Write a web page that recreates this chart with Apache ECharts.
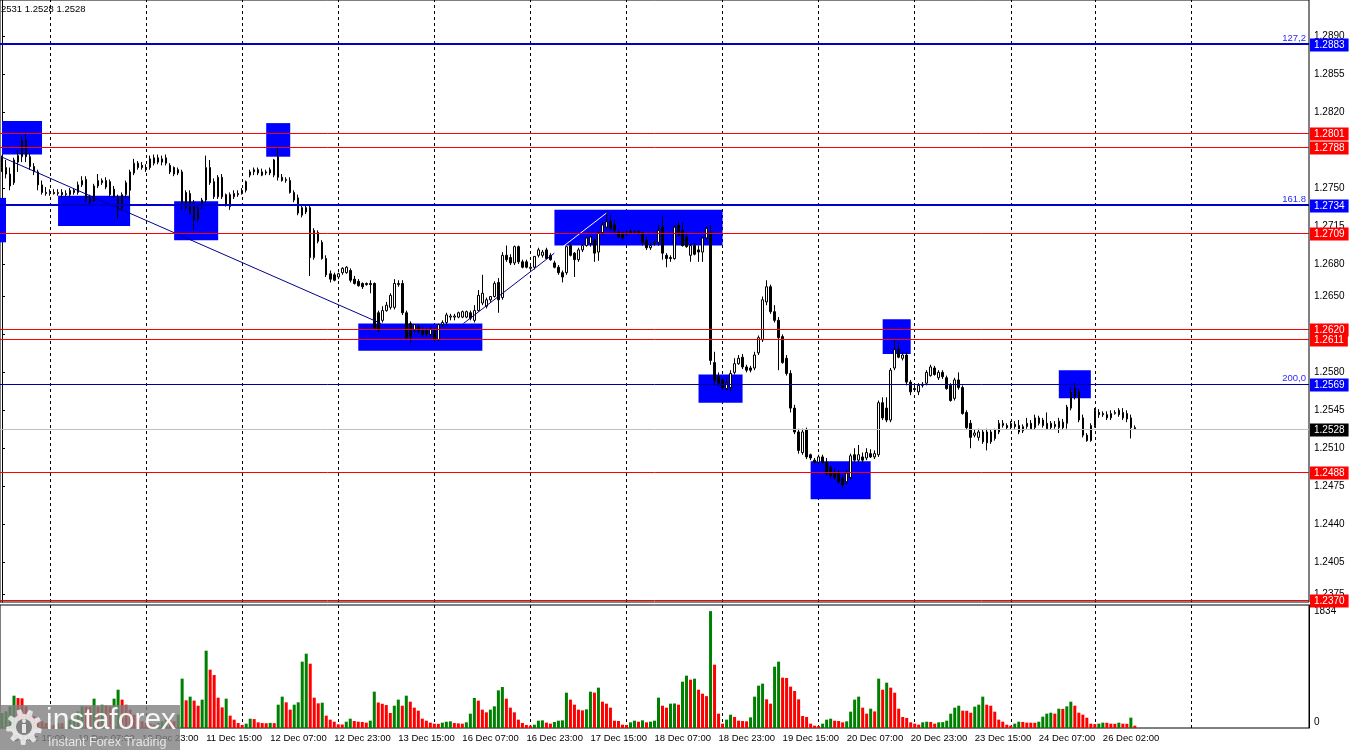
<!DOCTYPE html>
<html><head><meta charset="utf-8">
<script src="https://cdn.jsdelivr.net/npm/echarts@6/dist/echarts.min.js"></script>
<style>html,body{margin:0;padding:0;background:#fff}#c{width:1350px;height:750px}</style>
</head><body><div id="c"></div>
<script>
// ---- time axis (H1 bars) ----
const days = ['9 Dec','10 Dec','11 Dec','12 Dec','13 Dec','16 Dec','17 Dec','18 Dec','19 Dec','20 Dec','23 Dec','24 Dec','26 Dec','27 Dec','30 Dec'];
const dayFirstHour = [12,0,0,0,0,0,0,0,0,0,0,0,0,0,0];
const dayLastHour  = [23,23,23,23,23,23,23,23,23,23,23,20,23,23,5];

// ---- OHLC (GBPUSD H1) ----
const opens = [
1.2774,1.2769,1.2763,1.2755,1.2774,1.2779,1.2794,1.2779,1.2770,1.2765,
1.2753,1.2746,1.2745,1.2746,1.2745,1.2746,1.2744,1.2744,1.2748,1.2746,
1.2753,1.2758,1.2741,1.2738,1.2752,1.2755,1.2757,1.2756,1.2749,1.2742,
1.2731,1.2744,1.2748,1.2764,1.2773,1.2771,1.2769,1.2769,1.2773,1.2778,
1.2774,1.2773,1.2771,1.2769,1.2767,1.2765,1.2746,1.2745,1.2736,1.2721,
1.2733,1.2739,1.2769,1.2756,1.2742,1.2760,1.2744,1.2744,1.2742,1.2745,
1.2745,1.2748,1.2762,1.2765,1.2767,1.2765,1.2764,1.2764,1.2762,1.2779,
1.2760,1.2757,1.2757,1.2746,1.2741,1.2725,1.2728,1.2732,1.2686,1.2709,
1.2700,1.2685,1.2671,1.2670,1.2668,1.2672,1.2672,1.2674,1.2666,1.2664,
1.2662,1.2662,1.2662,1.2662,1.2635,1.2628,1.2637,1.2640,1.2640,1.2661,
1.2662,1.2635,1.2625,1.2619,1.2622,1.2619,1.2619,1.2615,1.2619,1.2610,
1.2624,1.2626,1.2631,1.2631,1.2631,1.2631,1.2631,1.2635,1.2628,1.2637,
1.2644,1.2641,1.2647,1.2650,1.2663,1.2649,1.2688,1.2686,1.2681,1.2696,
1.2682,1.2682,1.2676,1.2677,1.2688,1.2688,1.2693,1.2688,1.2681,1.2677,
1.2672,1.2672,1.2697,1.2690,1.2684,1.2693,1.2697,1.2699,1.2702,1.2691,
1.2709,1.2714,1.2719,1.2716,1.2709,1.2709,1.2708,1.2710,1.2709,1.2709,
1.2709,1.2702,1.2695,1.2699,1.2700,1.2714,1.2688,1.2686,1.2685,1.2716,
1.2711,1.2705,1.2688,1.2697,1.2693,1.2691,1.2704,1.2709,1.2589,1.2576,
1.2573,1.2565,1.2566,1.2580,1.2588,1.2594,1.2585,1.2584,1.2584,1.2598,
1.2610,1.2645,1.2659,1.2636,1.2628,1.2613,1.2593,1.2579,1.2547,1.2525,
1.2506,1.2527,1.2504,1.2499,1.2497,1.2502,1.2497,1.2492,1.2488,1.2487,
1.2482,1.2479,1.2483,1.2504,1.2499,1.2502,1.2501,1.2505,1.2502,1.2504,
1.2552,1.2547,1.2536,1.2584,1.2601,1.2593,1.2596,1.2571,1.2565,1.2562,
1.2568,1.2570,1.2577,1.2584,1.2575,1.2580,1.2575,1.2568,1.2556,1.2573,
1.2566,1.2543,1.2533,1.2522,1.2520,1.2525,1.2525,1.2525,1.2519,1.2525,
1.2531,1.2531,1.2529,1.2532,1.2531,1.2526,1.2530,1.2533,1.2529,1.2538,
1.2536,1.2533,1.2529,1.2530,1.2529,1.2534,1.2533,1.2547,1.2565,1.2562,
1.2538,1.2522,1.2517,1.2531,1.2543,1.2542,1.2541,1.2538,1.2542,1.2545,
1.2543,1.2542,1.2538,1.2529];
const highs = [
1.2780,1.2776,1.2769,1.2778,1.2785,1.2798,1.2800,1.2782,1.2773,1.2767,
1.2757,1.2751,1.2749,1.2749,1.2749,1.2749,1.2748,1.2750,1.2750,1.2756,
1.2761,1.2761,1.2744,1.2754,1.2763,1.2759,1.2760,1.2758,1.2752,1.2744,
1.2746,1.2757,1.2767,1.2777,1.2775,1.2774,1.2772,1.2780,1.2781,1.2781,
1.2780,1.2781,1.2773,1.2770,1.2769,1.2767,1.2748,1.2748,1.2739,1.2734,
1.2741,1.2780,1.2776,1.2759,1.2762,1.2763,1.2745,1.2746,1.2748,1.2748,
1.2750,1.2757,1.2767,1.2769,1.2769,1.2768,1.2767,1.2769,1.2777,1.2788,
1.2763,1.2760,1.2760,1.2748,1.2744,1.2735,1.2734,1.2734,1.2713,1.2711,
1.2702,1.2688,1.2674,1.2672,1.2672,1.2677,1.2678,1.2676,1.2669,1.2666,
1.2663,1.2663,1.2665,1.2663,1.2637,1.2641,1.2645,1.2653,1.2666,1.2665,
1.2665,1.2637,1.2627,1.2624,1.2624,1.2622,1.2621,1.2622,1.2621,1.2625,
1.2628,1.2635,1.2634,1.2634,1.2636,1.2637,1.2637,1.2637,1.2642,1.2656,
1.2670,1.2649,1.2650,1.2664,1.2667,1.2691,1.2697,1.2689,1.2697,1.2697,
1.2684,1.2684,1.2679,1.2687,1.2695,1.2693,1.2695,1.2690,1.2683,1.2679,
1.2674,1.2697,1.2699,1.2691,1.2695,1.2698,1.2705,1.2706,1.2704,1.2709,
1.2719,1.2728,1.2725,1.2721,1.2711,1.2710,1.2711,1.2712,1.2711,1.2711,
1.2710,1.2705,1.2699,1.2702,1.2716,1.2724,1.2690,1.2688,1.2716,1.2719,
1.2718,1.2709,1.2699,1.2699,1.2697,1.2705,1.2715,1.2716,1.2599,1.2580,
1.2575,1.2575,1.2582,1.2593,1.2596,1.2597,1.2587,1.2586,1.2599,1.2614,
1.2650,1.2665,1.2661,1.2642,1.2631,1.2615,1.2596,1.2582,1.2550,1.2528,
1.2528,1.2529,1.2505,1.2501,1.2504,1.2504,1.2501,1.2494,1.2491,1.2490,
1.2485,1.2490,1.2505,1.2510,1.2513,1.2506,1.2510,1.2509,1.2508,1.2554,
1.2557,1.2557,1.2584,1.2610,1.2607,1.2599,1.2599,1.2573,1.2568,1.2570,
1.2571,1.2582,1.2587,1.2586,1.2582,1.2582,1.2577,1.2570,1.2575,1.2580,
1.2568,1.2545,1.2536,1.2527,1.2528,1.2527,1.2528,1.2527,1.2528,1.2536,
1.2536,1.2533,1.2535,1.2535,1.2536,1.2532,1.2538,1.2536,1.2541,1.2540,
1.2538,1.2543,1.2535,1.2535,1.2538,1.2537,1.2550,1.2566,1.2570,1.2565,
1.2541,1.2524,1.2533,1.2547,1.2546,1.2544,1.2544,1.2545,1.2545,1.2547,
1.2547,1.2545,1.2541,1.2531];
const lows = [
1.2765,1.2759,1.2748,1.2753,1.2765,1.2774,1.2774,1.2767,1.2762,1.2748,
1.2744,1.2743,1.2743,1.2744,1.2743,1.2741,1.2742,1.2741,1.2744,1.2744,
1.2751,1.2737,1.2735,1.2737,1.2750,1.2753,1.2749,1.2742,1.2741,1.2722,
1.2729,1.2740,1.2740,1.2762,1.2767,1.2767,1.2765,1.2767,1.2771,1.2772,
1.2771,1.2771,1.2763,1.2761,1.2762,1.2730,1.2730,1.2725,1.2711,1.2719,
1.2731,1.2737,1.2753,1.2740,1.2740,1.2740,1.2733,1.2730,1.2740,1.2742,
1.2744,1.2746,1.2760,1.2762,1.2762,1.2761,1.2762,1.2762,1.2760,1.2757,
1.2756,1.2755,1.2745,1.2737,1.2725,1.2723,1.2726,1.2669,1.2684,1.2699,
1.2684,1.2668,1.2663,1.2664,1.2666,1.2670,1.2671,1.2663,1.2661,1.2659,
1.2657,1.2660,1.2653,1.2619,1.2617,1.2626,1.2636,1.2638,1.2638,1.2659,
1.2633,1.2610,1.2607,1.2615,1.2616,1.2613,1.2613,1.2613,1.2608,1.2609,
1.2622,1.2624,1.2628,1.2628,1.2630,1.2630,1.2630,1.2628,1.2626,1.2636,
1.2642,1.2639,1.2645,1.2649,1.2635,1.2647,1.2682,1.2679,1.2679,1.2680,
1.2676,1.2676,1.2674,1.2675,1.2686,1.2686,1.2685,1.2683,1.2676,1.2670,
1.2663,1.2670,1.2687,1.2668,1.2682,1.2691,1.2696,1.2696,1.2682,1.2683,
1.2707,1.2712,1.2711,1.2709,1.2704,1.2702,1.2706,1.2708,1.2708,1.2707,
1.2697,1.2693,1.2693,1.2697,1.2697,1.2684,1.2677,1.2682,1.2684,1.2705,
1.2696,1.2695,1.2682,1.2688,1.2682,1.2682,1.2702,1.2587,1.2568,1.2567,
1.2564,1.2563,1.2562,1.2578,1.2587,1.2583,1.2580,1.2580,1.2582,1.2596,
1.2608,1.2642,1.2634,1.2626,1.2582,1.2588,1.2577,1.2543,1.2523,1.2505,
1.2504,1.2500,1.2499,1.2496,1.2495,1.2496,1.2485,1.2482,1.2481,1.2477,
1.2473,1.2476,1.2481,1.2497,1.2497,1.2497,1.2499,1.2501,1.2500,1.2502,
1.2536,1.2534,1.2534,1.2582,1.2593,1.2591,1.2568,1.2559,1.2562,1.2559,
1.2566,1.2568,1.2576,1.2577,1.2573,1.2574,1.2564,1.2553,1.2554,1.2564,
1.2541,1.2527,1.2510,1.2520,1.2517,1.2514,1.2508,1.2514,1.2517,1.2523,
1.2529,1.2527,1.2527,1.2528,1.2523,1.2524,1.2528,1.2527,1.2527,1.2531,
1.2529,1.2527,1.2527,1.2528,1.2524,1.2527,1.2528,1.2545,1.2555,1.2534,
1.2520,1.2516,1.2516,1.2529,1.2538,1.2539,1.2536,1.2536,1.2541,1.2539,
1.2536,1.2534,1.2519,1.2528];
const closes = [
1.2769,1.2763,1.2752,1.2776,1.2780,1.2794,1.2779,1.2770,1.2765,1.2753,
1.2746,1.2745,1.2746,1.2745,1.2746,1.2744,1.2745,1.2748,1.2746,1.2753,
1.2757,1.2739,1.2737,1.2752,1.2757,1.2757,1.2751,1.2744,1.2742,1.2730,
1.2744,1.2755,1.2765,1.2773,1.2769,1.2769,1.2767,1.2777,1.2778,1.2774,
1.2777,1.2778,1.2765,1.2763,1.2764,1.2736,1.2732,1.2727,1.2721,1.2732,
1.2739,1.2769,1.2755,1.2742,1.2760,1.2742,1.2734,1.2733,1.2745,1.2744,
1.2748,1.2756,1.2765,1.2767,1.2764,1.2762,1.2765,1.2767,1.2776,1.2760,
1.2757,1.2758,1.2746,1.2739,1.2727,1.2732,1.2732,1.2686,1.2711,1.2701,
1.2685,1.2670,1.2666,1.2665,1.2671,1.2676,1.2677,1.2665,1.2662,1.2660,
1.2659,1.2661,1.2661,1.2621,1.2619,1.2637,1.2642,1.2651,1.2662,1.2662,
1.2635,1.2612,1.2613,1.2624,1.2618,1.2615,1.2615,1.2620,1.2610,1.2624,
1.2626,1.2633,1.2632,1.2632,1.2635,1.2636,1.2636,1.2630,1.2637,1.2651,
1.2653,1.2647,1.2650,1.2662,1.2647,1.2688,1.2684,1.2681,1.2696,1.2682,
1.2677,1.2677,1.2677,1.2687,1.2693,1.2691,1.2685,1.2684,1.2677,1.2672,
1.2668,1.2696,1.2688,1.2684,1.2693,1.2697,1.2704,1.2705,1.2690,1.2709,
1.2716,1.2719,1.2713,1.2711,1.2705,1.2704,1.2709,1.2709,1.2710,1.2710,
1.2700,1.2695,1.2697,1.2700,1.2711,1.2690,1.2685,1.2685,1.2714,1.2707,
1.2697,1.2696,1.2697,1.2689,1.2691,1.2704,1.2713,1.2591,1.2573,1.2570,
1.2566,1.2570,1.2579,1.2588,1.2593,1.2585,1.2582,1.2582,1.2596,1.2612,
1.2647,1.2659,1.2636,1.2628,1.2612,1.2589,1.2579,1.2547,1.2525,1.2508,
1.2525,1.2502,1.2501,1.2497,1.2502,1.2497,1.2487,1.2485,1.2483,1.2479,
1.2476,1.2487,1.2503,1.2499,1.2504,1.2499,1.2506,1.2502,1.2505,1.2552,
1.2538,1.2536,1.2582,1.2601,1.2594,1.2596,1.2571,1.2562,1.2564,1.2568,
1.2569,1.2580,1.2585,1.2578,1.2580,1.2576,1.2565,1.2554,1.2573,1.2566,
1.2542,1.2529,1.2520,1.2524,1.2525,1.2516,1.2515,1.2516,1.2527,1.2533,
1.2533,1.2529,1.2533,1.2530,1.2525,1.2530,1.2533,1.2528,1.2538,1.2533,
1.2531,1.2528,1.2533,1.2532,1.2535,1.2529,1.2548,1.2562,1.2557,1.2536,
1.2522,1.2517,1.2531,1.2545,1.2541,1.2541,1.2538,1.2542,1.2543,1.2541,
1.2538,1.2537,1.2529,1.2528];

// ---- tick volumes ----
const volumes = [
235,262,340,507,471,465,340,235,183,131,
105,78,52,50,78,76,105,131,157,262,
340,338,335,460,340,366,350,340,460,601,
445,366,288,209,157,105,78,68,52,78,
105,131,120,105,209,774,434,492,430,350,
445,1213,915,832,476,324,460,194,131,78,
47,68,146,140,89,78,75,80,76,366,
492,403,288,366,403,1041,1166,1009,476,387,
397,194,131,99,58,55,99,146,110,99,
95,84,115,570,400,380,360,235,350,445,
350,507,413,319,272,146,115,84,68,65,
84,99,105,78,73,68,89,225,471,429,
288,246,288,340,591,643,460,319,246,131,
78,47,37,52,115,120,84,68,94,115,
120,554,445,366,288,277,293,570,555,633,
413,382,319,115,110,52,47,89,115,99,
120,89,99,115,476,350,319,382,385,366,
727,821,758,774,601,539,500,1834,994,225,
68,131,209,173,115,110,105,167,492,664,
696,450,382,962,1041,790,785,649,581,450,
188,173,68,37,30,68,131,146,115,110,
89,105,256,445,492,319,225,303,260,774,
601,711,633,554,303,173,157,89,68,52,
89,99,95,68,89,92,115,225,319,350,
272,270,240,335,366,492,366,350,256,131,
99,52,37,68,99,95,84,83,82,99,
178,225,240,225,303,300,340,413,350,240,
209,162,68,62,68,84,82,68,66,84,
68,66,162,37];

// ---- axis labels ----
const priceTicks = [1.2890,1.2855,1.2820,1.2785,1.2750,1.2715,1.2680,1.2650,1.2615,1.2580,1.2545,1.2510,1.2475,1.2440,1.2405,1.2375];
const volumeTicks = [0, 1834];

// ---- horizontal levels ----
const levelPrices = [1.2883,1.2801,1.2788,1.2734,1.2709,1.2620,1.2611,1.2569,1.2528,1.2488,1.2370];
const levelKinds  = ['fibo','red','red','fibo','red','red','red','fibo2','bid','red','red'];
const fiboTexts   = {'1.2883':'127,2','1.2734':'161.8','1.2569':'200,0'};

// ---- zones: [barFrom, barTo, priceLow, priceHigh] ----
const zones = [
[0,10,1.2781,1.2812],
[-0.5,1,1.2700,1.2741],
[14,32,1.2715,1.2743],
[43,54,1.2702,1.2738],
[66,72,1.2779,1.2810],
[89,120,1.2600,1.2625],
[138,180,1.2697,1.2730],
[174,185,1.2552,1.2578],
[202,217,1.2463,1.2498],
[220,227,1.2597,1.2629],
[264,272,1.2556,1.2582]];

// ---- trend lines: [bar, price] ----
const trendDown = [[-0.25,1.2779],[94.75,1.2625]];
const trendUpOut = [[115.25,1.2625],[138,1.2690]];
const trendUpIn  = [[138,1.2690],[151,1.2727]];

// ---------------------------------------------------
const cats = [];
const dayStarts = [];
days.forEach((d, k) => {
  for (let h = dayFirstHour[k]; h <= dayLastHour[k]; h++) {
    if (h === 0 && cats.length < 300) dayStarts.push(cats.length);
    cats.push(d + ' ' + String(h).padStart(2,'0') + ':00');
  }
});
const N = cats.length;
const lastBar = closes.length - 1;
const ohlc = opens.map((o, i) => [o, closes[i], lows[i], highs[i]]);
const FONT = 'Liberation Sans';

const dashed = {silent: true, symbol: 'none', z: 0, animation: false,
  label: {show: false}, lineStyle: {color: '#000', type: [3, 3], width: 1},
  data: dayStarts.map(i => ({xAxis: i}))};

function levelRender(params, api) {
  const p = api.value(0);
  const k = api.value(1);
  const kind = levelKinds[k];
  const lineColor = kind === 'fibo' ? '#0000cd' : kind === 'fibo2' ? '#00009c' : kind === 'bid' ? '#c0c0c0' : '#ff0000';
  const tagColor = (kind === 'fibo' || kind === 'fibo2') ? '#0000ff' : kind === 'bid' ? '#000000' : '#ff0000';
  const w = kind === 'fibo' ? 2 : 1;
  const a = api.coord([-0.5, p]);
  const b = api.coord([N - 0.5, p]);
  const y = w === 2 ? Math.round(a[1]) : Math.round(a[1]) + 0.5;
  const children = [
    {type: 'line', shape: {x1: a[0], y1: y, x2: b[0], y2: y}, style: {stroke: lineColor, lineWidth: w}},
    {type: 'text', x: b[0] + 1, y: Math.round(a[1]) + 1, z2: 10,
      style: {text: p.toFixed(4), fill: '#fff', backgroundColor: tagColor, padding: [2, 4, 1, 4],
        fontSize: 10, fontFamily: FONT, align: 'left', verticalAlign: 'middle'}}
  ];
  const ft = fiboTexts[p.toFixed(4)];
  if (ft) children.push({type: 'text', x: b[0] - 3, y: Math.round(a[1]) - 1,
    style: {text: ft, fill: '#2a2aff', fontSize: 9.5, fontFamily: FONT, align: 'right', verticalAlign: 'bottom'}});
  return {type: 'group', children: children};
}

// decorative cog for the watermark logo
function cogPoints(cx, cy, rOut, rIn, teeth) {
  const pts = [];
  const step = Math.PI * 2 / teeth;
  for (let t = 0; t < teeth; t++) {
    const a0 = t * step;
    pts.push([cx + rIn * Math.cos(a0), cy + rIn * Math.sin(a0)]);
    pts.push([cx + rOut * Math.cos(a0 + step * 0.15), cy + rOut * Math.sin(a0 + step * 0.15)]);
    pts.push([cx + rOut * Math.cos(a0 + step * 0.5), cy + rOut * Math.sin(a0 + step * 0.5)]);
    pts.push([cx + rIn * Math.cos(a0 + step * 0.65), cy + rIn * Math.sin(a0 + step * 0.65)]);
  }
  return pts;
}

const option = {
  animation: false,
  textStyle: {fontFamily: FONT},
  grid: [
    {left: -1, top: 0, width: 1310, height: 602, show: true, borderColor: '#000', borderWidth: 1},
    {left: -1, top: 605, width: 1310, height: 123, show: true, borderColor: '#000', borderWidth: 1}
  ],
  xAxis: [
    {type: 'category', gridIndex: 0, data: cats, boundaryGap: true,
      axisLine: {show: false}, axisTick: {show: false}, axisLabel: {show: false}, splitLine: {show: false}},
    {type: 'category', gridIndex: 1, data: cats, boundaryGap: true,
      axisLine: {show: false}, axisTick: {show: false}, splitLine: {show: false},
      axisLabel: {show: true, interval: (idx) => idx <= lastBar && (idx - 3) % 16 === 0,
        align: 'left', fontSize: 9.5, color: '#000', margin: 5, fontFamily: FONT}},
    {type: 'value', gridIndex: 0, min: -0.5, max: N - 0.5, show: false}
  ],
  yAxis: [
    {type: 'value', gridIndex: 0, position: 'right', min: 1.23681, max: 1.29236,
      splitLine: {show: false},
      axisLine: {show: true, lineStyle: {color: '#000'}},
      axisTick: {show: true, length: 3, customValues: priceTicks, lineStyle: {color: '#000'}},
      axisLabel: {customValues: priceTicks, formatter: v => v.toFixed(4), fontSize: 10, color: '#000', margin: 5, fontFamily: FONT}},
    {type: 'value', gridIndex: 1, position: 'right', min: 0, max: 1930,
      splitLine: {show: false},
      axisLine: {show: true, lineStyle: {color: '#000'}},
      axisTick: {show: false},
      axisLabel: {customValues: volumeTicks, fontSize: 10, color: '#000', margin: 5, fontFamily: FONT,
        formatter: v => v === 0 ? '{z|0}' : String(v),
        rich: {z: {fontSize: 10, color: '#000', fontFamily: FONT, padding: [0, 0, 12, 0]}}}}
  ],
  series: [
    {type: 'custom', name: 'zones', xAxisIndex: 2, yAxisIndex: 0, z: 1, silent: true,
      data: zones, encode: {x: [0, 1], y: [2, 3]},
      renderItem: (params, api) => {
        const a = api.coord([api.value(0), api.value(3)]);
        const b = api.coord([api.value(1), api.value(2)]);
        return {type: 'rect', shape: {x: a[0], y: a[1], width: b[0] - a[0], height: b[1] - a[1]},
          style: {fill: '#0000ff'}};
      },
      markLine: dashed},
    {type: 'candlestick', name: 'price', xAxisIndex: 0, yAxisIndex: 0, z: 2, barWidth: 2,
      data: ohlc, silent: true,
      itemStyle: {color: '#ffffff', color0: '#000000', borderColor: '#000000', borderColor0: '#000000', borderWidth: 1}},
    {type: 'line', name: 'trendDown', xAxisIndex: 2, yAxisIndex: 0, z: 4, data: trendDown,
      symbol: 'none', silent: true, lineStyle: {color: '#00008b', width: 1}},
    {type: 'line', name: 'trendUpOut', xAxisIndex: 2, yAxisIndex: 0, z: 4, data: trendUpOut,
      symbol: 'none', silent: true, lineStyle: {color: '#00008b', width: 1}},
    {type: 'line', name: 'trendUpIn', xAxisIndex: 2, yAxisIndex: 0, z: 4, data: trendUpIn,
      symbol: 'none', silent: true, lineStyle: {color: '#ffffff', width: 1}},
    {type: 'custom', name: 'levels', xAxisIndex: 2, yAxisIndex: 0, z: 6, silent: true, clip: false,
      data: levelPrices.map((p, k) => [p, k]), encode: {y: 0},
      renderItem: levelRender},
    {type: 'bar', name: 'volume', xAxisIndex: 1, yAxisIndex: 1, z: 2, barWidth: 3, silent: true,
      data: volumes,
      itemStyle: {color: p => (p.dataIndex === 0 || volumes[p.dataIndex] > volumes[p.dataIndex - 1]) ? '#008000' : '#ff0000'},
      markLine: dashed}
  ],
  graphic: [
    {type: 'text', left: 1, top: 4, z: 100, style: {text: '2531 1.2528 1.2528', fontSize: 9.5, fontFamily: FONT, fill: '#000'}},
    {type: 'group', left: 0, top: 705, z: 100, children: [
      {type: 'rect', z: 100, shape: {x: 0, y: 0, width: 180, height: 45}, style: {fill: 'rgba(128,128,128,0.8)'}},
      {type: 'polygon', z: 101, shape: {points: cogPoints(24, 22, 18, 13, 9)}, style: {fill: 'rgba(255,255,255,0.75)'}},
      {type: 'circle', z: 102, shape: {cx: 24, cy: 22, r: 8}, style: {fill: 'rgba(128,128,128,1)'}},
      {type: 'rect', z: 103, shape: {x: 22, y: 19, width: 4, height: 9}, style: {fill: 'rgba(255,255,255,0.8)'}},
      {type: 'circle', z: 103, shape: {cx: 24, cy: 16, r: 2}, style: {fill: 'rgba(255,255,255,0.8)'}},
      {type: 'text', z: 101, x: 46, y: 1, style: {text: 'instaforex', fontSize: 30, fontFamily: 'Liberation Sans', fill: 'rgba(255,255,255,0.92)'}},
      {type: 'text', z: 101, x: 48, y: 31, style: {text: 'Instant Forex Trading', fontSize: 12.5, fontFamily: 'Liberation Sans', fill: 'rgba(235,235,235,0.92)'}}
    ]}
  ]
};
const chart = echarts.init(document.getElementById('c'));
chart.setOption(option);
</script>
</body></html>
